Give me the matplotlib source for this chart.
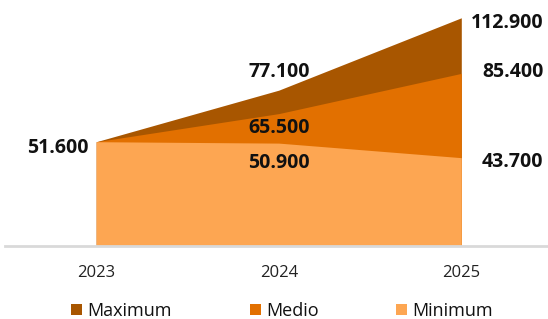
import matplotlib.pyplot as plt

years = ['2023', '2024', '2025']
maximum = [51.6, 77.1, 112.9]
medio = [51.6, 65.5, 85.4]
minimum = [51.6, 50.9, 43.7]
series_names = ['Maximum', 'Medio', 'Minimum']
colors = ['#A85600', '#E27000', '#FDA652']

plt.rcParams['font.family'] = ['Open Sans', 'DejaVu Sans']

fig = plt.figure(figsize=(5.48, 3.19), dpi=100)
ax = fig.add_axes([5 / 548, 1 - 246 / 319, 543 / 548, 246 / 319])

x = list(range(len(years)))
for vals, name, c in zip([maximum, medio, minimum], series_names, colors):
    ax.fill_between(x, 0, vals, color=c, lw=0, label=name)

ax.set_xlim(-0.5, 2.475)
ax.set_ylim(0, 121.7)
ax.set_yticks([])
ax.set_xticks(x)
ax.set_xticklabels(years, fontsize=12, color='#222222')
ax.tick_params(axis='x', length=0, pad=14)
for s in ['top', 'left', 'right']:
    ax.spines[s].set_visible(False)
ax.spines['bottom'].set_color('#D9D9D9')
ax.spines['bottom'].set_linewidth(2)

def fmt(v):
    return '{:.3f}'.format(v)

lab = dict(fontsize=14, fontweight='bold', color='#111111',
           textcoords='offset pixels', va='center')

# 2023 shared start value
ax.annotate(fmt(maximum[0]), (0, maximum[0]), xytext=(-8, -6), ha='right', **lab)
# 2024
ax.annotate(fmt(maximum[1]), (1, maximum[1]), xytext=(0, 18), ha='center', **lab)
ax.annotate(fmt(medio[1]), (1, medio[1]), xytext=(0, -14), ha='center', **lab)
ax.annotate(fmt(minimum[1]), (1, minimum[1]), xytext=(0, -20), ha='center', **lab)
# 2025
ax.annotate(fmt(maximum[2]), (2, maximum[2]), xytext=(82, -5), ha='right', **lab)
ax.annotate(fmt(medio[2]), (2, medio[2]), xytext=(82, 1), ha='right', **lab)
ax.annotate(fmt(minimum[2]), (2, minimum[2]), xytext=(82, -4), ha='right', **lab)

fig.legend(loc='center', bbox_to_anchor=(0.515, 0.025), ncol=3, frameon=False,
           fontsize=13, handlelength=0.6, handleheight=0.6, handletextpad=0.3,
           columnspacing=4.3, labelcolor='#111111')

fig.savefig('out.png', dpi=100)
